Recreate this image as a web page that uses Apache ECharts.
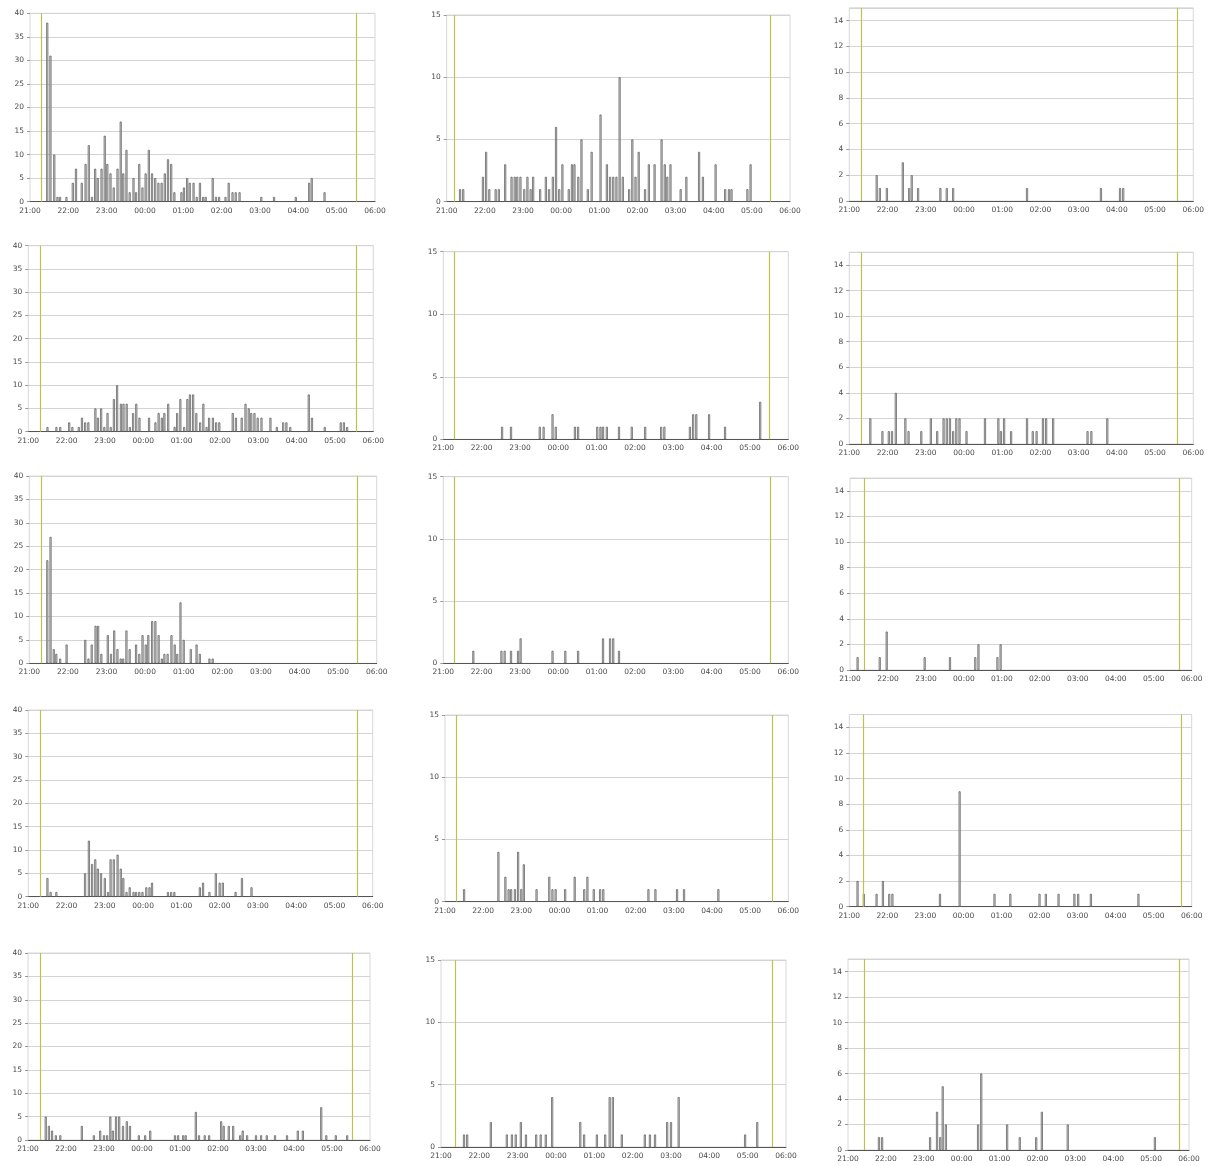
<!DOCTYPE html>
<html><head><meta charset="utf-8">
<script src="https://cdn.jsdelivr.net/npm/echarts/dist/echarts.min.js"></script>
<style>html,body{margin:0;padding:0;background:#fff}#c{width:1208px;height:1166px}</style>
</head><body><div id="c"></div><script>
// x values: minutes after 21:00 (5-minute bins)
const hourLabels = ['21:00','22:00','23:00','00:00','01:00','02:00','03:00','04:00','05:00','06:00'];

const r1c1Minutes = [27,32,38,43,47,57,67,72,81,87,92,97,102,106,112,117,121,126,131,137,142,146,151,156,162,166,171,176,181,186,191,196,201,206,211,216,221,226,237,241,246,250,256,261,266,271,275,286,291,296,306,311,317,322,328,362,382,416,437,441,461];
const r1c1Counts  = [38,31,10,1,1,1,4,7,4,8,12,1,7,5,7,14,8,6,3,7,17,6,11,2,5,2,8,3,6,11,6,5,4,4,6,9,8,2,2,3,5,4,4,1,4,1,1,5,1,1,1,4,2,2,2,1,1,1,4,5,2];

const r1c2Minutes = [21,26,57,62,67,77,82,92,102,107,111,116,122,127,132,136,147,156,161,167,172,177,182,192,197,201,207,212,222,228,242,252,257,262,267,272,277,287,292,297,302,312,318,327,338,343,347,352,368,377,397,403,423,438,444,448,473,478];
const r1c2Counts  = [1,1,2,4,1,1,1,3,2,2,2,2,1,2,1,2,1,2,1,2,6,1,3,1,3,3,2,5,1,4,7,3,2,2,2,10,2,1,5,2,4,1,3,3,5,3,2,3,1,2,4,2,3,1,1,1,1,3];

const r1c3Minutes = [43,48,59,84,94,98,108,143,153,163,279,395,425,430];
const r1c3Counts  = [2,1,1,3,1,2,1,1,1,1,1,1,1,1];

const r2c1Minutes = [30,44,50,64,69,79,84,89,94,105,109,114,119,124,129,134,139,145,149,154,159,164,169,174,189,199,204,209,213,219,229,233,238,244,249,253,258,263,269,274,279,283,289,294,299,320,325,334,340,345,349,354,359,365,379,389,399,404,410,439,444,464,489,494,499];
const r2c1Counts  = [1,1,1,2,1,1,3,2,2,5,3,5,1,4,1,7,10,6,6,6,1,4,6,3,3,2,4,3,4,6,1,4,7,1,7,8,8,4,2,6,1,3,3,2,2,4,3,3,6,5,4,4,3,3,3,1,2,2,1,8,3,1,2,2,1];

const r2c2Minutes = [92,106,151,157,171,176,206,211,241,246,250,256,275,295,316,341,346,386,391,396,416,441,496];
const r2c2Counts  = [1,1,1,1,2,1,1,1,1,1,1,1,1,1,1,1,1,1,2,2,2,1,3];

const r2c3Minutes = [33,52,62,67,73,88,93,113,128,138,148,153,158,163,168,173,184,213,234,238,243,254,279,288,294,304,309,320,374,380,405];
const r2c3Counts  = [2,1,1,1,4,2,1,1,2,1,2,2,2,1,2,2,1,2,2,1,2,1,2,1,1,2,2,2,1,1,2];

const r3c1Minutes = [28,33,38,42,48,58,87,92,97,103,107,112,122,127,132,137,142,146,151,156,166,171,176,181,185,191,196,201,206,210,215,221,226,230,235,240,251,260,265,280,285];
const r3c1Counts  = [22,27,3,2,1,4,5,1,4,8,8,2,6,2,7,3,1,1,7,3,4,2,6,4,6,9,9,6,1,2,2,6,4,2,13,5,3,4,2,1,1];

const r3c2Minutes = [47,91,96,106,117,121,171,191,211,250,261,266,275];
const r3c2Counts  = [1,1,1,1,1,2,1,1,1,2,2,2,1];

const r3c3Minutes = [12,47,58,118,158,198,203,233,238];
const r3c3Counts  = [1,1,3,1,1,1,2,1,2];

const r4c1Minutes = [30,35,44,89,95,100,105,109,114,120,125,129,134,140,145,149,154,159,165,169,174,179,185,190,194,219,224,229,269,274,284,294,300,305,325,335,350];
const r4c1Counts  = [4,1,1,5,12,7,8,6,5,4,1,8,8,9,6,4,1,2,1,1,1,1,2,2,3,1,1,1,2,3,1,5,3,3,1,4,2];

const r4c2Minutes = [30,84,95,100,104,110,115,120,124,144,164,169,174,189,204,219,224,234,244,249,320,331,365,376,430];
const r4c2Counts  = [1,4,2,1,1,1,4,1,3,1,2,1,1,1,2,1,2,1,1,1,1,1,1,1,1];

const r4c3Minutes = [13,23,43,53,63,68,143,174,229,254,300,310,330,355,361,381,456];
const r4c3Counts  = [2,1,1,2,1,1,1,9,1,1,1,1,1,1,1,1,1];

const r5c1Minutes = [28,33,38,44,51,85,104,114,120,125,130,134,139,144,150,156,161,175,185,193,232,237,245,249,265,270,279,286,305,309,317,324,335,339,346,360,368,377,390,409,426,434,463,471,486,504];
const r5c1Counts  = [5,3,2,1,1,3,1,2,1,1,5,2,5,5,3,4,3,1,1,2,1,1,1,1,6,1,1,1,4,3,3,3,1,2,1,1,1,1,1,1,2,2,7,1,1,1];

const r5c2Minutes = [36,41,78,103,111,117,125,133,149,156,164,174,218,224,244,257,264,269,283,319,327,335,354,360,372,476,495];
const r5c2Counts  = [1,1,2,1,1,1,2,1,1,1,1,4,2,1,1,1,4,4,1,1,1,1,2,2,4,1,2];

const r5c3Minutes = [49,54,130,141,146,150,155,206,211,252,272,298,307,348,486];
const r5c3Counts  = [1,1,1,3,1,5,2,2,6,2,1,1,3,2,1];

// dusk / dawn reference lines (minutes after 21:00) per panel
const refLines = [
  [17,511],[12,509],[18,515],
  [19,514],[17,510],[18,515],
  [18,509],[17,511],[22,520],
  [19,515],[18,515],[22,524],
  [19,512],[23,518],[25,525]
];

const panelMinutes = [r1c1Minutes,r1c2Minutes,r1c3Minutes,r2c1Minutes,r2c2Minutes,r2c3Minutes,r3c1Minutes,r3c2Minutes,r3c3Minutes,r4c1Minutes,r4c2Minutes,r4c3Minutes,r5c1Minutes,r5c2Minutes,r5c3Minutes];
const panelCounts  = [r1c1Counts,r1c2Counts,r1c3Counts,r2c1Counts,r2c2Counts,r2c3Counts,r3c1Counts,r3c2Counts,r3c3Counts,r4c1Counts,r4c2Counts,r4c3Counts,r5c1Counts,r5c2Counts,r5c3Counts];

// layout: [x of 21:00, x of 06:00, y of top, y of 0]
const layout = [
  [30,375,13.3,201.7],[446.7,790,15,201.7],[849.3,1193.3,7.8,201],
  [28.3,373.3,245.7,431.7],[443.3,788.3,251.7,439.3],[849.3,1193.3,252.2,444],
  [29.3,376.7,476,663.3],[443.3,788.3,476.7,663.3],[850,1191.7,478,670],
  [28.3,372.7,710,896.7],[445,788.3,715,901.7],[849.3,1191.7,714.5,906.7],
  [28,370,953,1140],[441,786,960,1147],[848,1189,959,1150]
];
const colScale = [{max:40,interval:5,showMax:true},{max:15,interval:5,showMax:true},{max:15,interval:2,showMax:false}];

const grids=[], xAxes=[], yAxes=[], series=[];
const txt = {fontSize:7.5, color:'#4a4a4a', fontFamily:'DejaVu Sans'};
for (let i=0;i<15;i++){
  const L = layout[i], sc = colScale[i%3];
  grids.push({left:L[0], top:L[2], width:L[1]-L[0], height:L[3]-L[2], show:true, borderColor:'#d8d8d8', borderWidth:1, containLabel:false});
  xAxes.push({type:'value', gridIndex:i, min:0, max:540, interval:60,
    axisLabel:Object.assign({margin:5, formatter:v=>hourLabels[Math.round(v/60)]}, txt),
    axisLine:{show:true, onZero:false, lineStyle:{color:'#555', width:1}},
    axisTick:{show:false}, splitLine:{show:false}});
  yAxes.push({type:'value', gridIndex:i, min:0, max:sc.max, interval:sc.interval,
    axisLabel:Object.assign({margin:6, showMaxLabel:sc.showMax}, txt),
    axisLine:{show:false}, axisTick:{show:true, length:3, lineStyle:{color:'#999'}},
    splitLine:{show:true, lineStyle:{color:'#d4d4d4', width:1}}});
  series.push({type:'bar', xAxisIndex:i, yAxisIndex:i, barWidth:2,
    data: panelMinutes[i].map((m,j)=>[m, panelCounts[i][j]]),
    itemStyle:{color:'#e0e0e0', borderColor:'#505050', borderWidth:0.7},
    markLine:{silent:true, symbol:['none','none'], label:{show:false},
      lineStyle:{color:'#bcc24e', width:1.2, type:'solid'},
      data: refLines[i].map(v=>({xAxis:v}))}
  });
}
const chart = echarts.init(document.getElementById('c'), null, {renderer:'canvas'});
chart.setOption({animation:false, backgroundColor:'#fff', grid:grids, xAxis:xAxes, yAxis:yAxes, series:series});
</script></body></html>
